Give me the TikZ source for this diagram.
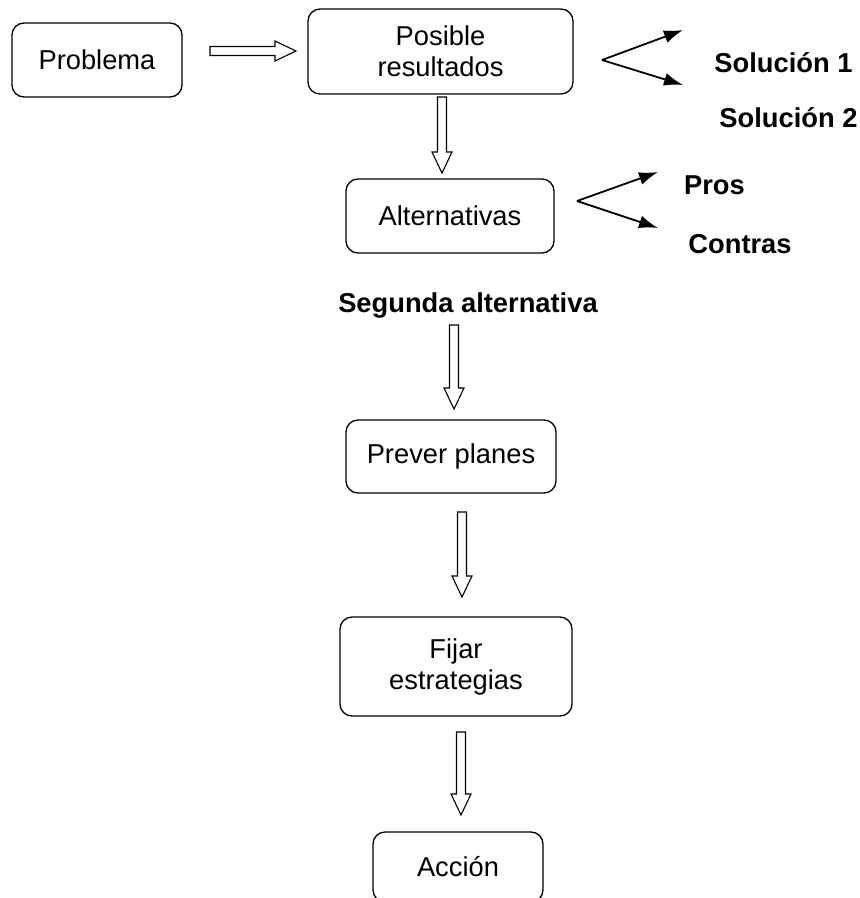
\documentclass[tikz,border=0pt]{standalone}
\usepackage{fontspec}
\setmainfont{Liberation Sans}
\usetikzlibrary{calc,arrows.meta}

\begin{document}
\begin{tikzpicture}[x=1pt,y=-1pt,
  box/.style={draw, rounded corners=12pt, line width=1.3pt, align=center, inner sep=0pt,
    font=\fontsize{27.3}{31}\selectfont},
  lbl/.style={font=\bfseries\fontsize{27.3}{31}\selectfont, inner sep=0pt},
  branch/.style={line width=1.8pt, -{Latex[length=19pt,width=13pt]}},
  hollow/.style={line width=1.1pt, to path={
    ($(\tikztostart)!4.5pt!90:(\tikztotarget)$) --
    ($(\tikztotarget)!21pt!(\tikztostart)!4.5pt!90:(\tikztotarget)$) --
    ($(\tikztotarget)!21pt!(\tikztostart)!10pt!90:(\tikztotarget)$) --
    (\tikztotarget) --
    ($(\tikztotarget)!21pt!(\tikztostart)!10pt!-90:(\tikztotarget)$) --
    ($(\tikztotarget)!21pt!(\tikztostart)!4.5pt!-90:(\tikztotarget)$) --
    ($(\tikztostart)!4.5pt!-90:(\tikztotarget)$) -- cycle}}]
\useasboundingbox (0,0) rectangle (860,898);

% boxes
\node[box, minimum width=170pt, minimum height=74pt] (prob) at (97,60) {Problema};
\node[box, minimum width=265pt, minimum height=85pt] (pos) at (440.5,51.5) {Posible\\resultados};
\node[box, minimum width=208pt, minimum height=74pt] (alt) at (450,216) {Alternativas};
\node[box, minimum width=210pt, minimum height=73pt] (prev) at (451,456.5) {Prever planes};
\node[box, minimum width=232pt, minimum height=99pt] (fij) at (456,666.5) {Fijar\\estrategias};
\node[box, minimum width=170pt, minimum height=70pt] (acc) at (458,867) {Acción};

% bold labels
\node[lbl] (sol1) at (783.5,63) {Solución 1};
\node[lbl] (sol2) at (788.5,118) {Solución 2};
\node[lbl] (pros) at (714.5,185) {Pros};
\node[lbl] (contras) at (740,244) {Contras};
\node[lbl] (seg) at (468,305) {Segunda alternativa};

% ends of the block arrows
\coordinate (h1) at (210,51);  \coordinate (h2) at (296,51);
\coordinate (d1) at (442,97);  \coordinate (d1e) at (442,173);
\coordinate (d2) at (454,325); \coordinate (d2e) at (454,409);
\coordinate (d3) at (462,512); \coordinate (d3e) at (462,597);
\coordinate (d4) at (461,732); \coordinate (d4e) at (461,815);

\draw[hollow] (h1) to (h2);
\draw[hollow] (d1) to (d1e);
\draw[hollow] (d2) to (d2e);
\draw[hollow] (d3) to (d3e);
\draw[hollow] (d4) to (d4e);

% branches
\coordinate (v1) at (602,60);
\coordinate (v1a) at (683,30); \coordinate (v1b) at (683,85);
\coordinate (v2) at (577,201);
\coordinate (v2a) at (658,172); \coordinate (v2b) at (658,228);
\draw[branch] (v1) -- (v1a);
\draw[branch] (v1) -- (v1b);
\draw[branch] (v2) -- (v2a);
\draw[branch] (v2) -- (v2b);
\end{tikzpicture}
\end{document}
